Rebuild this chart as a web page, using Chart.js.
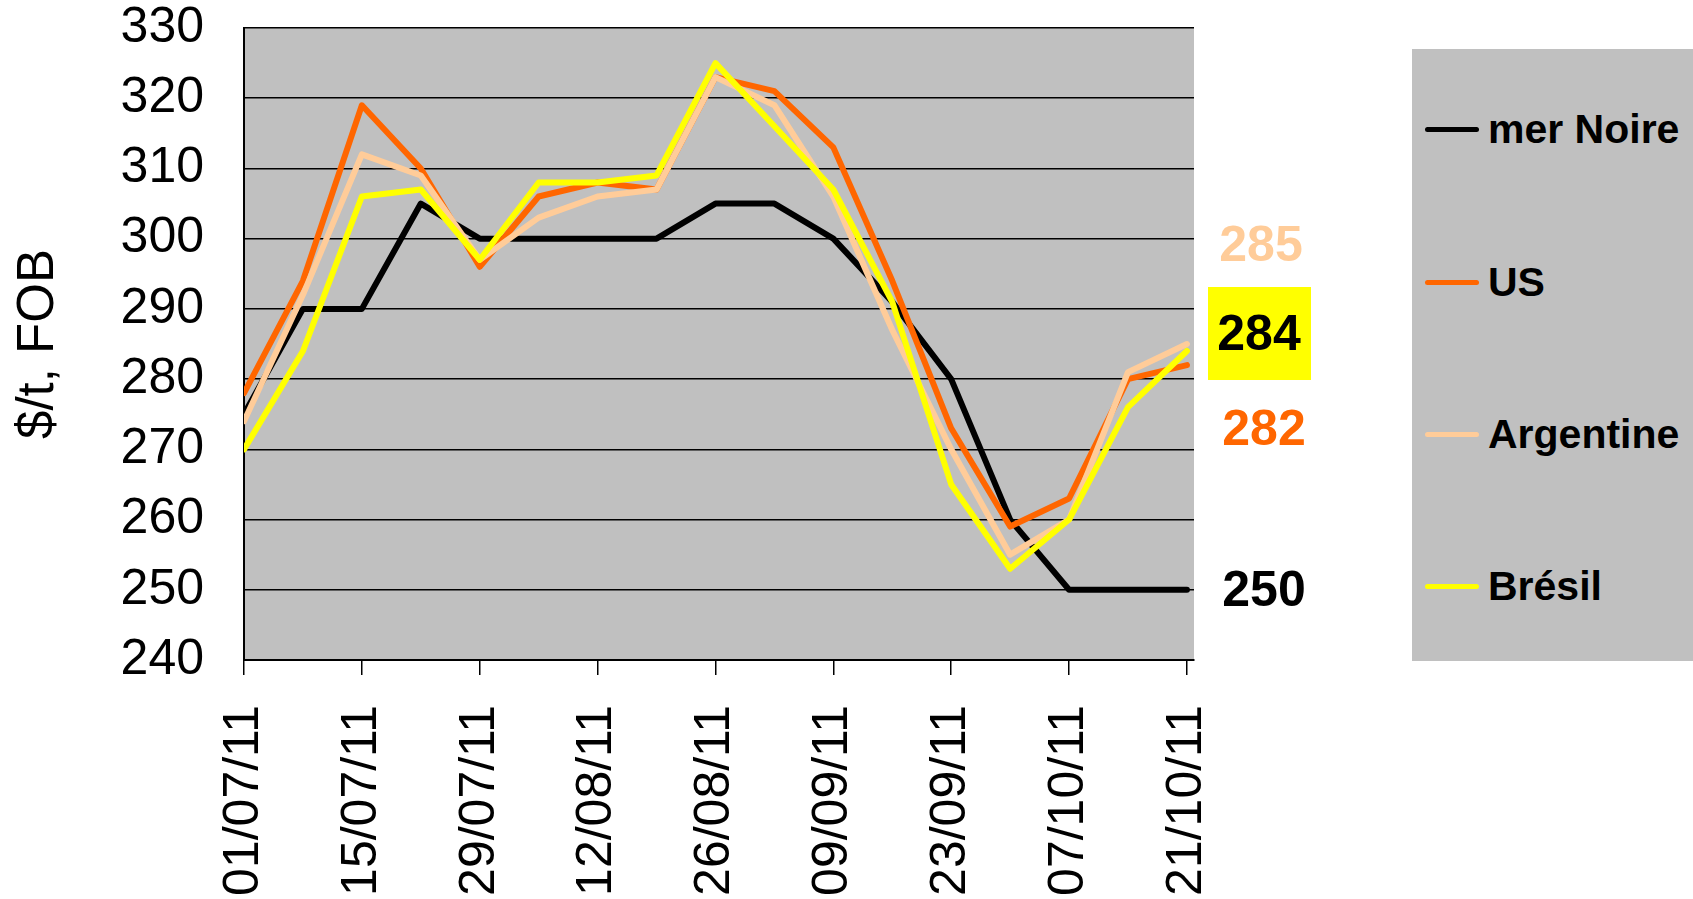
<!DOCTYPE html>
<html lang="fr">
<head>
<meta charset="utf-8">
<title>Prix FOB</title>
<script src="https://cdn.jsdelivr.net/npm/chart.js@4.4.0/dist/chart.umd.min.js"></script>
<style>
    body { margin: 0; background: #fff; font-family: "Liberation Sans", Arial, sans-serif; }
    #wrap { position: relative; width: 1693px; height: 899px; overflow: hidden; }
    #chart { position: absolute; left: 0; top: 0; }
    #legend { position: absolute; left: 1412px; top: 49px; width: 281px; height: 612px; background: #c0c0c0; }
    .item { position: absolute; left: 13px; height: 40px; display: flex; align-items: center;
            font-weight: bold; font-size: 41px; color: #000; white-space: nowrap; }
    .item .line { display: inline-block; width: 54px; height: 5px; border-radius: 3px; margin-right: 9px; }
    .val { position: absolute; font-weight: bold; font-size: 50px; line-height: 1;
           transform: translate(-50%, -50%); white-space: nowrap; }
    #box { position: absolute; left: 1208px; top: 287px; width: 103px; height: 93px; background: #ffff00; }
</style>
</head>
<body>
<div id="wrap">
    <canvas id="chart" width="1693" height="899"></canvas>
    <div id="legend"></div>
    <div id="box"></div>
    <div id="values"></div>
</div>
<script>
// Données (prix hebdomadaires, $/t FOB)
const dates = ["01/07/11", "08/07/11", "15/07/11", "22/07/11", "29/07/11", "05/08/11",
    "12/08/11", "19/08/11", "26/08/11", "02/09/11", "09/09/11", "16/09/11",
    "23/09/11", "30/09/11", "07/10/11", "14/10/11", "21/10/11"];

const merNoire = [275, 290, 290, 305, 300, 300, 300, 300, 305, 305, 300, 291, 280, 260, 250, 250, 250];
const us = [278, 294, 319, 310, 296, 306, 308, 307, 323, 321, 313, 294, 273, 259, 263, 280, 282];
const argentine = [274, 292, 312, 309, 297, 303, 306, 307, 323, 319, 306, 287, 270, 255, 260, 281, 285];
const bresil = [270, 284, 306, 307, 297, 308, 308, 309, 325, 316, 307, 291, 265, 253, 260, 276, 284];

const yTicks = [240, 250, 260, 270, 280, 290, 300, 310, 320, 330];

const series = [
    { name: "mer Noire", values: merNoire, color: "#000000", order: 3 },
    { name: "US", values: us, color: "#ff6600", order: 2 },
    { name: "Argentine", values: argentine, color: "#ffcc99", order: 1 },
    { name: "Brésil", values: bresil, color: "#ffff00", order: 0 }
];

const FONT = "'Liberation Sans', Arial, sans-serif";

/** Fond gris de la zone de tracé. */
const plotBackground = {
    id: "plotBackground",
    beforeDraw(chart) {
        const { ctx, chartArea: a } = chart;
        ctx.save();
        ctx.fillStyle = "#c0c0c0";
        ctx.fillRect(a.left, a.top, a.right - a.left, a.bottom - a.top);
        ctx.restore();
    }
};

/** Crée le graphique linéaire. */
function createLineChart() {
    new Chart(document.getElementById("chart"), {
        type: "line",
        data: {
            datasets: series.map(s => ({
                label: s.name,
                data: s.values.map((v, i) => ({ x: i, y: v })),
                borderColor: s.color,
                borderWidth: 6,
                borderJoinStyle: "round",
                borderCapStyle: "round",
                pointRadius: 0,
                tension: 0,
                order: s.order
            }))
        },
        options: {
            responsive: false,
            animation: false,
            layout: { padding: { left: 0, right: 499, top: 28, bottom: 0 } },
            plugins: { legend: { display: false }, tooltip: { enabled: false } },
            scales: {
                x: {
                    type: "linear",
                    min: 0,
                    max: dates.length - 1 + 0.12,
                    afterBuildTicks: s => {
                        s.ticks = dates.map((d, i) => ({ value: i })).filter(t => t.value % 2 === 0);
                    },
                    afterFit: s => {
                        s.height = 239;
                        s.paddingLeft = 0;
                        s.paddingRight = 0;
                    },
                    ticks: {
                        callback: v => dates[v],
                        minRotation: 90,
                        maxRotation: 90,
                        autoSkip: false,
                        padding: 30,
                        color: "#000",
                        font: { family: FONT, size: 50 }
                    },
                    grid: { drawOnChartArea: false, drawTicks: true, tickLength: 15, color: "#000", lineWidth: 1.5 },
                    border: { color: "#000", width: 2 }
                },
                y: {
                    min: yTicks[0],
                    max: yTicks[yTicks.length - 1],
                    afterFit: s => {
                        s.width = 244;
                        s.paddingTop = 0;
                        s.paddingBottom = 0;
                    },
                    afterBuildTicks: s => { s.ticks = yTicks.map(v => ({ value: v })); },
                    ticks: { padding: 40, color: "#000", font: { family: FONT, size: 50 } },
                    grid: { color: "#000", lineWidth: 1.5, drawTicks: false },
                    border: { color: "#000", width: 2 },
                    title: {
                        display: true,
                        text: "$/t, FOB",
                        color: "#000",
                        font: { family: FONT, size: 51 },
                        padding: { top: 8, bottom: 0 }
                    }
                }
            }
        },
        plugins: [plotBackground]
    });
}

/** Légende à droite, dans un cadre gris. */
function createLegend() {
    const legend = document.getElementById("legend");
    const centers = [129, 282, 434, 586];
    series.forEach((s, i) => {
        const item = document.createElement("div");
        item.className = "item";
        item.style.top = (centers[i] - 49 - 20) + "px";
        item.innerHTML = `<span class="line" style="background:${s.color}"></span>${s.name}`;
        legend.appendChild(item);
    });
}

/** Dernières valeurs affichées à droite du graphique. */
function createLastValues() {
    const last = arr => arr[arr.length - 1];
    const labels = [
        { text: last(argentine), color: "#ffcc99", x: 1261, y: 244 },
        { text: last(bresil), color: "#000000", x: 1259, y: 333 },
        { text: last(us), color: "#ff6600", x: 1264, y: 428 },
        { text: last(merNoire), color: "#000000", x: 1264, y: 589 }
    ];
    const holder = document.getElementById("values");
    labels.forEach(l => {
        const el = document.createElement("div");
        el.className = "val";
        el.style.left = l.x + "px";
        el.style.top = l.y + "px";
        el.style.color = l.color;
        el.textContent = l.text;
        holder.appendChild(el);
    });
}

createLineChart();
createLegend();
createLastValues();
</script>
</body>
</html>
